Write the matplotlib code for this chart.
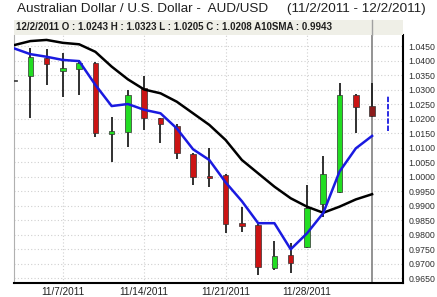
"""
AUD/USD daily candles with two moving averages, 11/2/2011 - 12/2/2011
"""
import matplotlib
matplotlib.use("Agg")
import matplotlib.pyplot as plt
from matplotlib.patches import Rectangle

# trading days 11/2 .. 12/2 (index 0..22)
opens  = [1.0330, 1.0348, 1.0410, 1.0364, 1.0371, 1.0392, 1.0146, 1.0155,
          1.0304, 1.0201, 1.0174, 1.0077, 1.0002, 1.0005, 0.9839, 0.9833,
          0.9683, 0.9729, 0.9756, 0.9905, 0.9948, 1.0281, 1.0243]
highs  = [1.0440, 1.0443, 1.0439, 1.0425, 1.0402, 1.0396, 1.0206, 1.0298,
          1.0347, 1.0203, 1.0181, 1.0082, 1.0099, 1.0008, 0.9894, 0.9836,
          0.9779, 0.9770, 0.9971, 1.0072, 1.0323, 1.0283, 1.0323]
lows   = [1.0280, 1.0202, 1.0316, 1.0275, 1.0281, 1.0137, 1.0051, 1.0103,
          1.0160, 1.0114, 1.0059, 0.9971, 0.9964, 0.9806, 0.9810, 0.9660,
          0.9678, 0.9666, 0.9752, 0.9861, 0.9944, 1.0149, 1.0205]
closes = [1.0332, 1.0413, 1.0387, 1.0374, 1.0390, 1.0151, 1.0157, 1.0281,
          1.0201, 1.0180, 1.0080, 0.9997, 0.9996, 0.9836, 0.9830, 0.9687,
          0.9726, 0.9701, 0.9892, 1.0008, 1.0281, 1.0241, 1.0208]

sma_blue  = [1.0442, 1.0422, 1.0413, 1.0402, 1.0398, 1.0316, 1.0243, 1.0250,
             1.0230, 1.0218, 1.0166, 1.0094, 1.0057, 0.9980, 0.9915, 0.9839,
             0.9839, 0.9749, 0.9804, 0.9874, 1.0017, 1.0097, 1.0140]
sma10     = [1.0453, 1.0467, 1.0471, 1.0461, 1.0456, 1.0430, 1.0379, 1.0335,
             1.0300, 1.0287, 1.0258, 1.0218, 1.0178, 1.0126, 1.0057, 1.0011,
             0.9965, 0.9925, 0.9896, 0.9875, 0.9896, 0.9921, 0.9939]

# next-day projected range
proj_lo, proj_hi = 1.0158, 1.0281

date_ticks  = [3, 8, 13, 18]
date_labels = ["11/7/2011", "11/14/2011", "11/21/2011", "11/28/2011"]
price_ticks = [0.965 + 0.005 * k for k in range(17)]

W, H = 437, 297
fig = plt.figure(figsize=(W / 100, H / 100), dpi=100)
fig.patch.set_facecolor("white")

ax = fig.add_axes([14 / W, (H - 283) / H, (403 - 14) / W, (283 - 35) / H])
ax.set_xlim(0, 23.9)
ax.set_ylim(0.96328, 1.0488)

# grid
for t in price_ticks:
  ax.axhline(t, color="#d0d0d0", lw=0.8, ls=(0, (1, 2)), zorder=0)
for t in date_ticks:
  ax.axvline(t, color="#d0d0d0", lw=0.8, ls=(0, (1, 2)), zorder=0)

# cursor line on last day
ax.axvline(22, color="#808080", lw=1.2, zorder=1)

n = len(opens)
for i in range(n):
  o, h, l, c = opens[i], highs[i], lows[i], closes[i]
  ax.vlines(i, l, h, color="#202020", lw=1.3, zorder=2)
  if i == 0:
    fc = "#606060"
  elif i == n - 1:
    fc = "#8b1c1c"
  elif c >= o:
    fc = "#22dd22"
  else:
    fc = "#cc1414"
  lo, hi = min(o, c), max(o, c)
  ax.bar(i, max(hi - lo, 0.0004), bottom=lo, width=0.34, color=fc,
         edgecolor="#303030", linewidth=0.5, zorder=3)

xs = list(range(n))
ax.plot(xs, sma10, color="black", lw=1.8, zorder=4)
ax.plot(xs, sma_blue, color="#1a1ae0", lw=1.8, zorder=5)
ax.vlines(23, proj_lo, proj_hi, color="#1a1ae0", lw=1.3, ls=(0, (3, 1)), zorder=4)

ax.set_xticks(date_ticks)
ax.set_xticklabels(date_labels, fontsize=7.2, family="Liberation Sans", color="#202020")
ax.set_yticks(price_ticks)
ax.set_yticklabels(["%.4f" % t for t in price_ticks], fontsize=6.3,
                   family="Liberation Sans", color="#303030")
ax.yaxis.tick_right()
ax.tick_params(axis="both", length=0)
ax.tick_params(axis="y", pad=4)
ax.tick_params(axis="x", pad=3)

ax.spines["top"].set_visible(False)
ax.spines["left"].set_color("#b0b0b0")
ax.spines["left"].set_linewidth(0.8)
ax.spines["bottom"].set_color("black")
ax.spines["bottom"].set_linewidth(1.5)
ax.spines["right"].set_color("black")
ax.spines["right"].set_linewidth(1.5)

# header bar with last-day quote
fig.patches.append(Rectangle((14 / W, (H - 35) / H), (403 - 14) / W, 15 / H,
                             transform=fig.transFigure, facecolor="#efefe7",
                             edgecolor="none", zorder=0))
fig.add_artist(plt.Line2D([372 / W, 372 / W], [(H - 35) / H, (H - 20) / H],
                          transform=fig.transFigure, color="#a0a0a0", lw=1))
fig.text(16 / W, (H - 27.5) / H,
         "12/2/2011 O : 1.0243 H : 1.0323 L : 1.0205 C : 1.0208 A10SMA : 0.9943",
         fontsize=7, fontweight="bold", family="Liberation Sans", va="center",
         ha="left", color="#202020")

fig.text(221 / W, (H - 9) / H,
         "Australian Dollar / U.S. Dollar -  AUD/USD     (11/2/2011 - 12/2/2011)",
         fontsize=9.7, family="Liberation Sans", va="center", ha="center",
         color="#202020")

fig.savefig("out.png", dpi=100)
